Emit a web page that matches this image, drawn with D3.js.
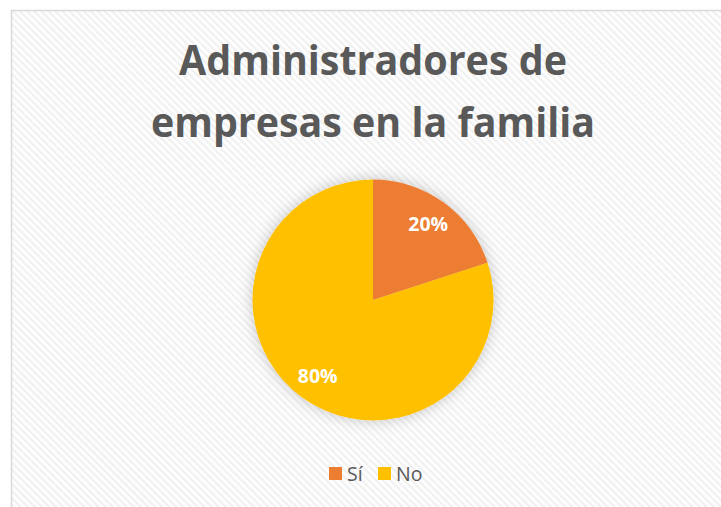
<!DOCTYPE html>
<html><head><meta charset="utf-8">
<script src="https://cdn.jsdelivr.net/npm/d3@7"></script>
<style>html,body{margin:0;padding:0;background:#fff;}svg{display:block;}</style>
</head><body>
<svg id="chart" width="721" height="507"></svg>
<script>
const categories = ["Sí", "No"];
const values = [20, 80];
const colors = ["#ED7D31", "#FFC000"];
const titleLines = ["Administradores de", "empresas en la familia"];

const svg = d3.select("#chart");
const defs = svg.append("defs");
const pat = defs.append("pattern").attr("id","hatch").attr("patternUnits","userSpaceOnUse")
  .attr("width",5).attr("height",5).attr("patternTransform","rotate(-45)");
pat.append("rect").attr("width",5).attr("height",5).attr("fill","#ffffff");
pat.append("rect").attr("width",2.5).attr("height",5).attr("fill","#f1f1f1");

const f = defs.append("filter").attr("id","glow").attr("x","-30%").attr("y","-30%").attr("width","160%").attr("height","160%");
f.append("feGaussianBlur").attr("in","SourceAlpha").attr("stdDeviation",7).attr("result","b");
f.append("feFlood").attr("flood-color","#000").attr("flood-opacity",0.22);
f.append("feComposite").attr("in2","b").attr("operator","in").attr("result","s");
const m = f.append("feMerge");
m.append("feMergeNode").attr("in","s");
m.append("feMergeNode").attr("in","SourceGraphic");

svg.append("rect").attr("x",11.5).attr("y",10.5).attr("width",720).attr("height",510)
  .attr("fill","url(#hatch)").attr("stroke","#d9d9d9").attr("stroke-width",1.5);

const title = svg.append("g").attr("font-family","Open Sans, sans-serif").attr("font-weight","bold")
  .attr("fill","#595959").attr("text-anchor","middle");
const tw = [388, 444];
titleLines.forEach((t,i)=>{
  title.append("text").attr("x",373).attr("y",75 + i*62).attr("font-size",41)
    .attr("textLength",tw[i]).attr("lengthAdjust","spacingAndGlyphs").text(t);
});

const cx = 373, cy = 300, r = 120.5;
const pie = d3.pie().sort(null).value(d=>d)(values);
const arc = d3.arc().innerRadius(0).outerRadius(r);
const g = svg.append("g").attr("transform",`translate(${cx},${cy})`);
g.append("g").attr("filter","url(#glow)").selectAll("path").data(pie).join("path")
  .attr("d",arc).attr("fill",(d,i)=>colors[i]);
const total = d3.sum(values);
const labelArc = d3.arc().innerRadius(r*0.78).outerRadius(r*0.78);
g.selectAll("text.lbl").data(pie).join("text").attr("class","lbl")
  .attr("transform",d=>{const c=labelArc.centroid(d);return `translate(${c[0]},${c[1]})`;})
  .attr("text-anchor","middle").attr("dy","0.36em")
  .attr("font-family","Open Sans, sans-serif").attr("font-weight","bold").attr("font-size",19.5)
  .attr("fill","#ffffff").text(d=>Math.round(d.data/total*100)+"%");

const leg = svg.append("g").attr("font-family","Open Sans, sans-serif").attr("font-size",19.5).attr("fill","#595959");
const legX = [329, 378];
categories.forEach((c,i)=>{
  leg.append("rect").attr("x",legX[i]).attr("y",467).attr("width",13).attr("height",13).attr("fill",colors[i]);
  leg.append("text").attr("x",legX[i]+18).attr("y",481).text(c);
});
</script>
</body></html>
